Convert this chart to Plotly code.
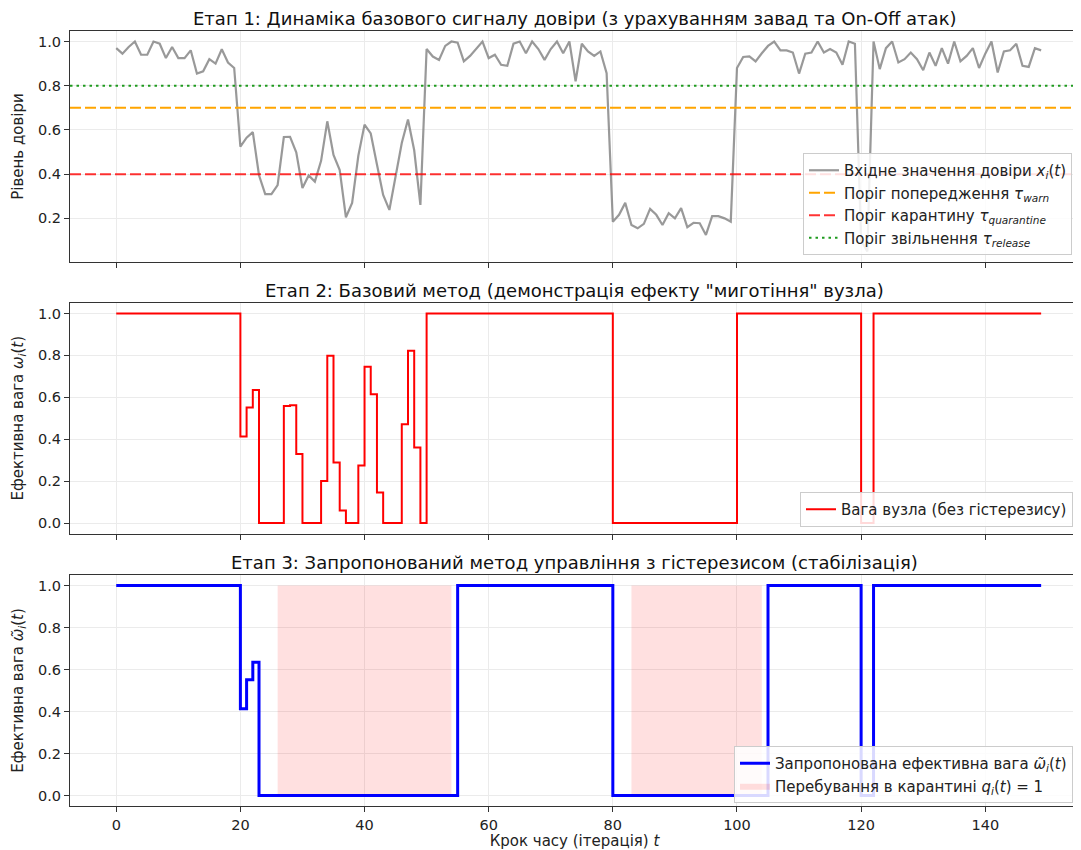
import plotly.graph_objects as go

# ---------------- data ----------------
time_steps = list(range(150))

trust_signal = (
    # t = 0..19
    [0.97, 0.945, 0.975, 1.0, 0.94, 0.94, 1.0, 0.99, 0.925, 0.975,
     0.925, 0.925, 0.96, 0.855, 0.865, 0.92, 0.90, 0.965, 0.905, 0.88]
    # t = 20..49 (On-Off attack)
    + [0.524, 0.565, 0.59, 0.395, 0.31, 0.31, 0.35, 0.568, 0.569, 0.499,
       0.337, 0.394, 0.366, 0.46, 0.639, 0.487, 0.418, 0.205, 0.27, 0.483,
       0.624, 0.584, 0.444, 0.306, 0.238, 0.39, 0.541, 0.647, 0.508, 0.261]
    # t = 50..79
    + [0.966, 0.932, 0.917, 0.98, 1.0, 0.995, 0.91, 0.935, 0.966, 1.0,
       0.925, 0.94, 0.895, 0.89, 0.99, 1.0, 0.947, 1.0, 0.966, 0.917,
       0.966, 1.0, 0.947, 1.0, 0.82, 0.99, 0.955, 0.935, 0.955, 0.857]
    # t = 80..99
    + [0.185, 0.216, 0.27, 0.17, 0.155, 0.175, 0.243, 0.216, 0.17, 0.223,
       0.2, 0.246, 0.16, 0.18, 0.178, 0.125, 0.21, 0.21, 0.2, 0.185]
    # t = 100..149
    + [0.88, 0.93, 0.933, 0.91, 0.947, 0.98, 1.0, 0.96, 0.96, 0.95,
       0.855, 0.945, 0.95, 1.0, 0.95, 0.966, 0.95, 0.895, 1.0, 0.99,
       0.1, 0.05, 1.0, 0.875, 0.97, 1.0, 0.905, 0.92, 0.95, 0.92,
       0.87, 0.95, 0.89, 0.97, 0.9, 1.0, 0.91, 0.935, 0.97, 0.88,
       0.945, 1.0, 0.86, 0.955, 0.96, 0.99, 0.89, 0.885, 0.97, 0.96]
)

basic_weight = (
    [1.0] * 20
    + [0.413, 0.551, 0.635, 0.0, 0.0, 0.0, 0.0, 0.559, 0.562, 0.329,
       0.0, 0.0, 0.0, 0.2, 0.798, 0.289, 0.06, 0.0, 0.0, 0.275,
       0.746, 0.614, 0.146, 0.0, 0.0, 0.0, 0.471, 0.822, 0.36, 0.0]
    + [1.0] * 30
    + [0.0] * 20
    + [1.0] * 20
    + [0.0] * 2
    + [1.0] * 28
)

hysteresis_weight = (
    [1.0] * 20
    + [0.413, 0.551, 0.635]
    + [0.0] * 32
    + [1.0] * 25
    + [0.0] * 25
    + [1.0] * 15
    + [0.0] * 2
    + [1.0] * 28
)

quarantine_intervals = [(26, 54), (83, 104)]

tau_warn = 0.7
tau_quarantine = 0.4
tau_release = 0.8

x_ticks = [0, 20, 40, 60, 80, 100, 120, 140]
y_ticks = [0.0, 0.2, 0.4, 0.6, 0.8, 1.0]

titles = [
    "Етап 1: Динаміка базового сигналу довіри (з урахуванням завад та On-Off атак)",
    "Етап 2: Базовий метод (демонстрація ефекту \"миготіння\" вузла)",
    "Етап 3: Запропонований метод управління з гістерезисом (стабілізація)",
]

# ---------------- layout constants ----------------
# page body adds an 8px margin, so the figure is drawn 8px smaller / shifted
OFF = 8
W, H = 1081 - OFF, 850 - OFF
M_L, M_R, M_T, M_B = 70 - OFF, 2, 31 - OFF, 850 - 806
X_RANGE = [-7.45, 155.1]
FONT = "DejaVu Sans"
AXIS_COLOR = "#333333"
GRID_COLOR = "#ebebeb"

plot_h = H - M_T - M_B
plot_w = W - M_L - M_R

def py(screen_y):
    return (H - M_B - (screen_y - OFF)) / plot_h

def px(screen_x):
    return (screen_x - OFF - M_L) / plot_w

domains = [[py(262), py(31)], [py(533.5), py(303)], [py(806), py(575)]]

fig = go.Figure()

# ---- panel 1 ----
fig.add_trace(go.Scatter(
    x=time_steps, y=trust_signal, mode="lines",
    line=dict(color="rgba(128,128,128,0.8)", width=2.2),
    name="Вхідне значення довіри <i>x<sub>i</sub></i>(<i>t</i>)",
    xaxis="x", yaxis="y", legend="legend"))
for tau, color, dash, label in [
    (tau_warn, "#ffa500", "11px,4px", "Поріг попередження <i>τ<sub>warn</sub></i>"),
    (tau_quarantine, "rgba(255,0,0,0.8)", "11px,4px", "Поріг карантину <i>τ<sub>quarantine</sub></i>"),
    (tau_release, "#1e9a1e", "2.5px,4px", "Поріг звільнення <i>τ<sub>release</sub></i>"),
]:
    fig.add_trace(go.Scatter(
        x=X_RANGE, y=[tau, tau], mode="lines",
        line=dict(color=color, width=2, dash=dash),
        name=label, xaxis="x", yaxis="y", legend="legend"))

# ---- panel 2 ----
fig.add_trace(go.Scatter(
    x=time_steps, y=basic_weight, mode="lines",
    line=dict(color="#ff0000", width=2, shape="hv"),
    name="Вага вузла (без гістерезису)",
    xaxis="x2", yaxis="y2", legend="legend2"))

# ---- panel 3 ----
for k, (a, b) in enumerate(quarantine_intervals):
    fig.add_trace(go.Scatter(
        x=[a, b, b, a, a], y=[0, 0, 1, 1, 0], mode="lines",
        fill="toself", fillcolor="rgba(255,0,0,0.12)",
        line=dict(width=0, color="rgba(255,0,0,0.12)"),
        name="Перебування в карантині <i>q<sub>i</sub></i>(<i>t</i>) = 1",
        showlegend=(k == 0), legendrank=2,
        xaxis="x3", yaxis="y3", legend="legend3"))
fig.add_trace(go.Scatter(
    x=time_steps, y=hysteresis_weight, mode="lines",
    line=dict(color="#0000ff", width=3, shape="hv"),
    name="Запропонована ефективна вага <i>ω̃<sub>i</sub></i>(<i>t</i>)",
    legendrank=1,
    xaxis="x3", yaxis="y3", legend="legend3"))

axis_common = dict(
    showline=True, mirror=True, linecolor=AXIS_COLOR, linewidth=1.2,
    ticks="outside", ticklen=5, tickcolor=AXIS_COLOR, tickwidth=1,
    showgrid=True, gridcolor=GRID_COLOR, gridwidth=1, zeroline=False,
    automargin=False,
    tickfont=dict(family=FONT, size=14.5, color="#222222"),
)

legend_common = dict(
    bgcolor="rgba(255,255,255,0.85)", bordercolor="#cccccc", borderwidth=1,
    font=dict(family=FONT, size=15, color="#222222"),
    xanchor="left", yanchor="bottom", itemwidth=30, tracegroupgap=0,
)

layout = dict(
    width=W, height=H,
    margin=dict(l=M_L, r=M_R, t=M_T, b=M_B),
    plot_bgcolor="white", paper_bgcolor="white",
    font=dict(family=FONT, size=15, color="#222222"),
    legend=dict(x=px(803), y=py(255), **legend_common),
    legend2=dict(x=px(800), y=py(527), **legend_common),
    legend3=dict(x=px(734), y=py(803), **legend_common),
)

for i in range(3):
    xa = "xaxis" if i == 0 else f"xaxis{i+1}"
    ya = "yaxis" if i == 0 else f"yaxis{i+1}"
    ysuf = "y" if i == 0 else f"y{i+1}"
    layout[xa] = dict(
        domain=[0, 1], anchor=ysuf, range=X_RANGE, tickvals=x_ticks,
        showticklabels=(i == 2), **axis_common)
    if i > 0:
        layout[xa]["matches"] = "x"
    layout[ya] = dict(domain=domains[i], anchor="x" if i == 0 else f"x{i+1}",
                      **axis_common)

label_font = dict(family=FONT, size=15, color="#222222")
layout["yaxis"].update(range=[0.0025, 1.0475], tickvals=y_ticks[1:], tickformat=".1f",
                       title=dict(text="Рівень довіри", font=label_font, standoff=10))
layout["yaxis2"].update(range=[-0.05, 1.05], tickvals=y_ticks, tickformat=".1f",
                        title=dict(text="Ефективна вага <i>ω<sub>i</sub></i>(<i>t</i>)",
                                   font=label_font, standoff=10))
layout["yaxis3"].update(range=[-0.05, 1.05], tickvals=y_ticks, tickformat=".1f",
                        title=dict(text="Ефективна вага <i>ω̃<sub>i</sub></i>(<i>t</i>)",
                                   font=label_font, standoff=10))
layout["xaxis3"].update(title=dict(text="Крок часу (ітерація) <i>t</i>",
                                   font=label_font, standoff=4))

annotations = []
for i, txt in enumerate(titles):
    annotations.append(dict(
        text=txt, xref="paper", yref="paper", x=0.5, y=domains[i][1],
        xanchor="center", yanchor="bottom", yshift=0, showarrow=False,
        font=dict(family=FONT, size=18, color="#111111")))
layout["annotations"] = annotations

fig.update_layout(**layout)
fig.write_html("out.html")
